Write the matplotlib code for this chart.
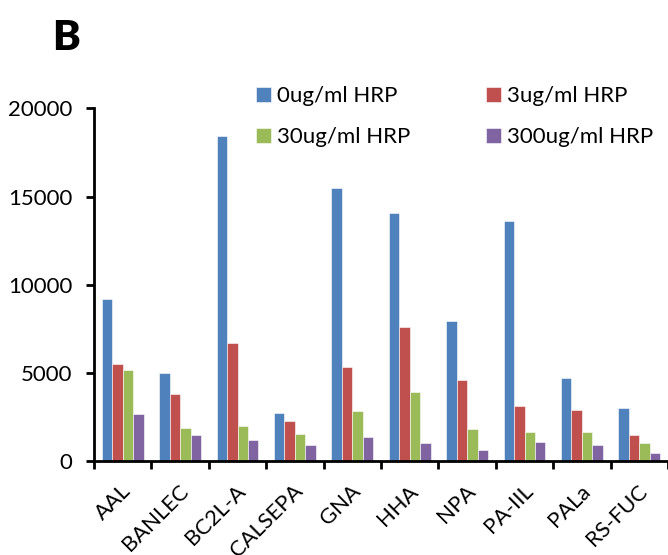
import matplotlib
matplotlib.use("Agg")
import matplotlib.pyplot as plt
import matplotlib.transforms as mtrans
import numpy as np
from matplotlib.ticker import FixedLocator

plt.rcParams['font.family'] = ['Lato', 'DejaVu Sans']

categories = ["AAL", "BANLEC", "BC2L-A", "CALSEPA", "GNA", "HHA", "NPA", "PA-IIL", "PALa", "RS-FUC"]
series_names = ["0ug/ml HRP", "3ug/ml HRP", "30ug/ml HRP", "300ug/ml HRP"]
hrp_0 = [9200, 4970, 18450, 2720, 15500, 14070, 7950, 13630, 4710, 2990]
hrp_3 = [5500, 3800, 6680, 2260, 5340, 7590, 4610, 3100, 2900, 1450]
hrp_30 = [5150, 1900, 1990, 1560, 2810, 3890, 1810, 1640, 1640, 1010]
hrp_300 = [2640, 1450, 1180, 910, 1370, 1010, 650, 1100, 910, 480]
y_ticks = [0, 5000, 10000, 15000, 20000]
colors = ["#4F81BD", "#C0504D", "#9BBB59", "#8064A2"]

W, H = 668, 555
FS = 16
fig = plt.figure(figsize=(W / 100, H / 100), dpi=100)
ax = fig.add_axes([94 / W, 94 / H, 574 / W, (461 - 108.5) / H])

series = [hrp_0, hrp_3, hrp_30, hrp_300]
x = np.arange(len(categories))
bw = 1 / 5.5
handles = []
for i, (vals, name, c) in enumerate(zip(series, series_names, colors)):
    b = ax.bar(x + (i - 1.5) * bw, vals, width=bw, color=c, label=name,
               edgecolor="white", linewidth=0.4)
    handles.append(b)

ax.set_xlim(-0.5, len(categories) - 0.5)
ax.set_ylim(0, 20000)
ax.set_yticks(y_ticks)
ax.set_yticklabels([str(v) for v in y_ticks])
ax.set_xticks(x)
ax.set_xticklabels(categories, rotation=45, ha='right', va='center', rotation_mode='anchor')
ax.xaxis.set_minor_locator(FixedLocator(np.arange(-0.5, len(categories) + 0.5, 1.0)))
ax.tick_params(axis='x', which='major', length=0, pad=19.5, labelsize=15.8)
ax.tick_params(axis='x', which='minor', length=6, width=2, direction='out')
ax.tick_params(axis='y', length=6, width=2, direction='out', pad=9.5, labelsize=FS)
shift = mtrans.ScaledTranslation(5 / 100, 0, fig.dpi_scale_trans)
for lab in ax.get_xticklabels():
    lab.set_transform(lab.get_transform() + shift)
for s in ['top', 'right']:
    ax.spines[s].set_visible(False)
for s in ['left', 'bottom']:
    ax.spines[s].set_linewidth(2)

fig.text(52 / W, 1 - 50 / H, "B", fontsize=30, fontweight='heavy',
         va='baseline', ha='left')

order = [0, 2, 1, 3]
leg = ax.legend(handles=[handles[k] for k in order], labels=[series_names[k] for k in order],
                ncol=2, loc='upper left',
                bbox_to_anchor=(256 / W, 1 - 86 / H), bbox_transform=fig.transFigure,
                frameon=False, fontsize=FS, handlelength=0.68, handleheight=0.68,
                handletextpad=0.28, columnspacing=3.4, labelspacing=0.95,
                borderpad=0, borderaxespad=0)

fig.savefig("out.png", dpi=100)
